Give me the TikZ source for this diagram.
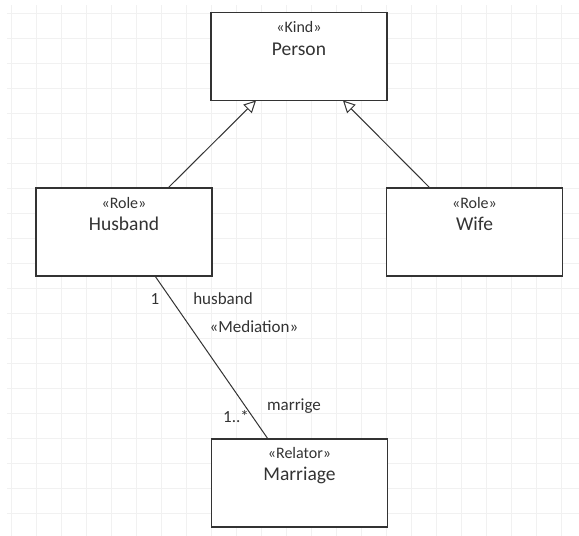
\documentclass[tikz,border=0pt]{standalone}
\usepackage{fontspec}
\setmainfont{Carlito}
\usetikzlibrary{arrows.meta}
\definecolor{gridgray}{HTML}{F1F1F1}
\definecolor{ink}{HTML}{333333}
\tikzset{
  classbox/.style={draw=ink, line width=1.1pt, fill=white, minimum width=176pt, minimum height=88pt, inner sep=0pt},
  stereo/.style={font=\fontsize{16}{19}\selectfont, text=ink, inner sep=0pt},
  cname/.style={font=\fontsize{19.5}{23}\selectfont, text=ink, inner sep=0pt},
  lbl/.style={font=\fontsize{17}{20}\selectfont, text=ink, inner sep=0pt},
  generalization/.style={draw=ink, line width=1pt, -{Triangle[open, length=12pt, width=12pt, line width=1pt]}},
  association/.style={draw=ink, line width=1pt},
}
\begin{document}
\begin{tikzpicture}[x=1pt, y=-1pt]
  \useasboundingbox (0,0) rectangle (579,536);
  \fill[white] (0,0) rectangle (579,536);
  % background grid
  \foreach \gx in {11,36,...,579} \draw[gridgray, line width=1pt] (\gx,5) -- (\gx,536);
  \foreach \gy in {13.3,38.3,...,536} \draw[gridgray, line width=1pt] (7,\gy) -- (579,\gy);

  % classes
  \node[classbox] (person)   at (299,56.5)  {};
  \node[classbox] (husband)  at (124,232)   {};
  \node[classbox] (wife)     at (474.5,232) {};
  \node[classbox] (marriage) at (299.5,483) {};

  \node[stereo] (personS)   at (299,27)   {«Kind»};
  \node[cname]  (personN)   at (299,49)   {Person};
  \node[stereo] (husbandS)  at (124,203)  {«Role»};
  \node[cname]  (husbandN)  at (124,224)  {Husband};
  \node[stereo] (wifeS)     at (474.5,203){«Role»};
  \node[cname]  (wifeN)     at (474.5,224){Wife};
  \node[stereo] (marriageS) at (299.5,453){«Relator»};
  \node[cname]  (marriageN) at (299.5,475){Marriage};

  % generalizations
  \coordinate (hTop) at (168,188);
  \coordinate (wTop) at (430,188);
  \coordinate (pL) at (256,100.5);
  \coordinate (pR) at (343,100.5);
  \draw[generalization] (hTop) -- (pL);
  \draw[generalization] (wTop) -- (pR);

  % mediation
  \coordinate (hBot) at (155,276);
  \coordinate (mTop) at (268,439);
  \draw[association] (hBot) -- (mTop);
  \node[lbl] (m1)   at (155,299)   {1};
  \node[lbl] (mhus) at (223,299)   {husband};
  \node[lbl] (mmed) at (254,327)   {«Mediation»};
  \node[lbl] (mmar) at (294,406)   {marrige};
  \node[lbl] (mmul) at (236,417)   {1..*};
\end{tikzpicture}
\end{document}
